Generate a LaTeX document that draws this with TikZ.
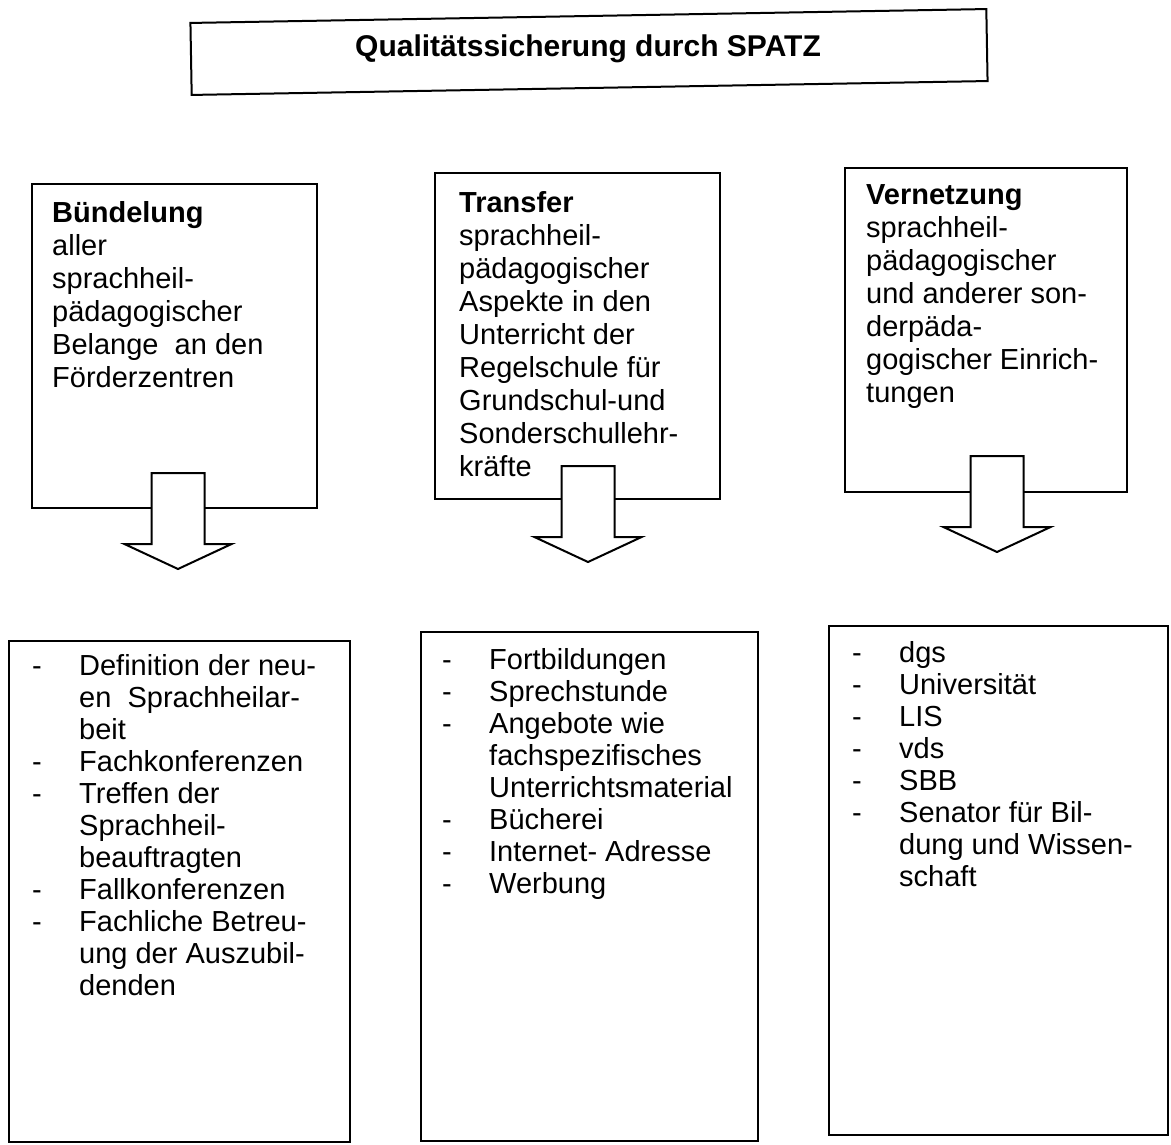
\documentclass[tikz,border=0pt]{standalone}
\usepackage{fontspec}
\setmainfont{Liberation Sans}
\usepackage{tikz}
\usetikzlibrary{shapes.arrows, positioning}

\newcommand{\punkt}{\makebox[47pt][l]{-}}
\newcommand{\einzug}{\hspace*{47pt}}

\begin{document}
\begin{tikzpicture}[x=1pt, y=-1pt,
        kasten/.style={draw, line width=2pt, inner sep=0pt},
        kastentext/.style={inner sep=0pt, align=left,
            font=\fontsize{29}{33}\selectfont},
        listentext/.style={inner sep=0pt, align=left,
            font=\fontsize{29}{32}\selectfont},
        blockpfeil/.style={single arrow, draw, fill=white, line width=2pt,
            rotate=-90, anchor=tail, inner xsep=0pt, inner ysep=25.5pt,
            minimum height=96pt, minimum width=105pt,
            single arrow head extend=27pt, single arrow tip angle=130}]
        \useasboundingbox (0, 0) rectangle (1171, 1145);
        % title
        \node[kasten, rotate=1, minimum width=796pt, minimum height=72pt]
            (titel) at (589, 52) {};
        \node[inner sep=0pt, font=\bfseries\fontsize{30}{33}\selectfont]
            (titeltext) at (588, 49) {Qualitätssicherung durch SPATZ};
        % upper boxes
        \node[kasten, minimum width=285pt, minimum height=324pt] (buendelung)
            at (174.5, 346) {};
        \node[kasten, minimum width=285pt, minimum height=326pt] (transfer)
            at (577.5, 336) {};
        \node[kasten, minimum width=282pt, minimum height=324pt] (vernetzung)
            at (986, 330) {};
        \node[kastentext, below right=15.9pt and 21pt of buendelung.north west]
            (buendelungtext) {\strut\textbf{Bündelung}\\ aller\\ sprachheil-\\
            pädagogischer\\ Belange\ \ an den\\ Förderzentren};
        \node[kastentext, below right=16.9pt and 25pt of transfer.north west]
            (transfertext) {\strut\textbf{Transfer}\\ sprachheil-\\
            pädagogischer\\ Aspekte in den\\ Unterricht der\\
            Regelschule für\\ Grundschul-und\\ Sonderschullehr-\\ kräfte};
        \node[kastentext, below right=13.9pt and 22pt of vernetzung.north west]
            (vernetzungtext) {\strut\textbf{Vernetzung}\\ sprachheil-\\
            pädagogischer\\ und anderer son-\\ derpäda-\\
            gogischer Einrich-\\ tungen};
        % arrows
        \node[blockpfeil] (pfeileins) at (178, 472) {};
        \node[blockpfeil] (pfeilzwei) at (588, 465) {};
        \node[blockpfeil] (pfeildrei) at (997, 455) {};
        % lower boxes
        \node[kasten, minimum width=341pt, minimum height=501pt] (listeeins)
            at (179.5, 891.5) {};
        \node[kasten, minimum width=337pt, minimum height=509pt] (listezwei)
            at (589.5, 886.5) {};
        \node[kasten, minimum width=339pt, minimum height=509pt] (listedrei)
            at (998.5, 880.5) {};
        \node[listentext, below right=13pt and 24pt of listeeins.north west]
            (listeeinstext) {\strut\punkt Definition der neu-\\
            \einzug en\ \ Sprachheilar-\\ \einzug beit\\
            \punkt Fachkonferenzen\\ \punkt Treffen der\\
            \einzug Sprachheil-\\ \einzug beauftragten\\
            \punkt Fallkonferenzen\\ \punkt Fachliche Betreu-\\
            \einzug ung der Auszubil-\\ \einzug denden};
        \node[listentext, below right=15.6pt and 22pt of listezwei.north west]
            (listezweitext) {\strut\punkt Fortbildungen\\
            \punkt Sprechstunde\\ \punkt Angebote wie\\
            \einzug fachspezifisches\\ \einzug Unterrichtsmaterial\\
            \punkt Bücherei\\ \punkt Internet- Adresse\\ \punkt Werbung};
        \node[listentext, below right=14.6pt and 24pt of listedrei.north west]
            (listedreitext) {\strut\punkt dgs\\ \punkt Universität\\
            \punkt LIS\\ \punkt vds\\ \punkt SBB\\
            \punkt Senator für Bil-\\ \einzug dung und Wissen-\\
            \einzug schaft};
    \end{tikzpicture}
\end{document}
